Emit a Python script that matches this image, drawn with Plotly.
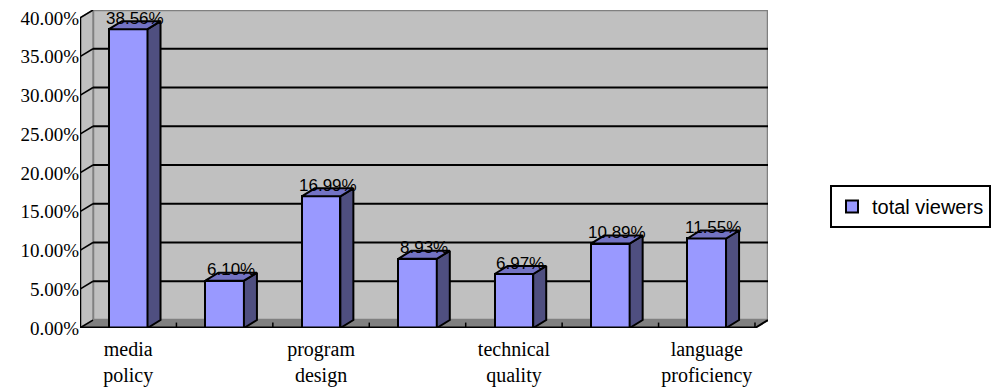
import plotly.graph_objects as go

# ---- data ----
categories = ["media policy", "", "program design", "", "technical quality", "", "language proficiency"]
tick_labels = ["media<br>policy", "", "program<br>design", "", "technical<br>quality", "", "language<br>proficiency"]
values = [38.56, 6.10, 16.99, 8.93, 6.97, 10.89, 11.55]
value_labels = ["38.56%", "6.10%", "16.99%", "8.93%", "6.97%", "10.89%", "11.55%"]
series_name = "total viewers"
y_ticks = [0, 5, 10, 15, 20, 25, 30, 35, 40]
y_tick_text = ["0.00%", "5.00%", "10.00%", "15.00%", "20.00%", "25.00%", "30.00%", "35.00%", "40.00%"]

# ---- geometry (3D look) ----
n = len(values)
xs = list(range(n))
bw = 0.4          # bar width in category units
dx = 0.135        # depth offset in x (category units)
dy = 1.03         # depth offset in y (percent units)
ymax = 40
x0, x1 = -0.5, n - 0.5

FRONT = "#9999FF"
SIDE = "#4F4F80"
TOP = "#7373C4"
WALL = "#C0C0C0"
FLOOR = "#808080"

fig = go.Figure()

shapes = []
def poly(pts, fill, line="#808080", width=1.5, layer="below"):
    path = "M " + " L ".join(f"{px},{py}" for px, py in pts) + " Z"
    shapes.append(dict(type="path", path=path, xref="x", yref="y", fillcolor=fill,
                       line=dict(color=line, width=width), layer=layer))

def seg(p, q, color="black", width=2, layer="below"):
    shapes.append(dict(type="line", x0=p[0], y0=p[1], x1=q[0], y1=q[1], xref="x", yref="y",
                       line=dict(color=color, width=width), layer=layer))

# back wall
poly([(x0 + dx, dy), (x1 + dx, dy), (x1 + dx, ymax + dy), (x0 + dx, ymax + dy)], WALL, width=2.5)
# left side wall
poly([(x0, 0), (x0 + dx, dy), (x0 + dx, ymax + dy), (x0, ymax)], WALL, width=1.5)
# floor
poly([(x0, 0), (x1, 0), (x1 + dx, dy), (x0 + dx, dy)], FLOOR, width=1.5)

# gridlines on back wall + side wall diagonals with outward tick
for v in y_ticks:
    if 0 < v < ymax:
        seg((x0 + dx, v + dy), (x1 + dx, v + dy), width=2)
    seg((x0 + dx, v + dy), (x0 - 0.05, v - 0.05 * dy / dx), width=1.5)

# front axes
seg((x0, 0), (x0, ymax), width=2.5, layer="above")
seg((x0, 0), (x1, 0), width=3, layer="above")
seg((x1, 0), (x1 + dx, dy), width=2, layer="above")
# category boundary ticks on floor
for k in range(n + 1):
    xb = x0 + k
    seg((xb, 0), (xb, 0.7), width=1.5, layer="above")

# bars: front face
fig.add_trace(go.Bar(x=xs, y=values, width=bw, name=series_name,
                     marker=dict(color=FRONT, line=dict(color="black", width=2)),
                     showlegend=True))
# side and top faces computed from values
for i, v in zip(xs, values):
    r = i + bw / 2
    l = i - bw / 2
    fig.add_trace(go.Scatter(x=[r, r + dx, r + dx, r, r], y=[0, dy, v + dy, v, 0],
                             fill="toself", fillcolor=SIDE, mode="lines",
                             line=dict(color="black", width=2), showlegend=False, hoverinfo="skip"))
    fig.add_trace(go.Scatter(x=[l, r, r + dx, l + dx, l], y=[v, v, v + dy, v + dy, v],
                             fill="toself", fillcolor=TOP, mode="lines",
                             line=dict(color="black", width=2), showlegend=False, hoverinfo="skip"))

annotations = []
for i, v, t in zip(xs, values, value_labels):
    annotations.append(dict(x=i + dx / 2, y=v + dy, text=t, showarrow=False, xref="x", yref="y",
                            yanchor="middle", yshift=3,
                            font=dict(family="Liberation Sans, Arial", size=17, color="black")))

fig.update_layout(
    width=995, height=390,
    margin=dict(l=80, r=227, t=10, b=62, autoexpand=False),
    paper_bgcolor="white", plot_bgcolor="white",
    shapes=shapes, annotations=annotations,
    bargap=0,
    showlegend=True,
    legend=dict(xref="container", yref="container", x=830 / 995, y=1 - 185 / 390,
                xanchor="left", yanchor="top",
                bgcolor="white", bordercolor="black", borderwidth=2,
                font=dict(family="Liberation Sans, Arial", size=20, color="black"),
                itemsizing="constant"),
    xaxis=dict(range=[x0, x1 + dx], tickvals=xs, ticktext=tick_labels, showgrid=False,
               zeroline=False, showline=False, ticks="", ticklabelstandoff=7,
               tickfont=dict(family="Liberation Serif, Times New Roman", size=20, color="black")),
    yaxis=dict(range=[0, ymax + dy], tickvals=y_ticks, ticktext=y_tick_text, showgrid=False,
               zeroline=False, showline=False, ticks="",
               tickfont=dict(family="Liberation Serif, Times New Roman", size=19, color="black")),
)

fig.write_html("out.html")
